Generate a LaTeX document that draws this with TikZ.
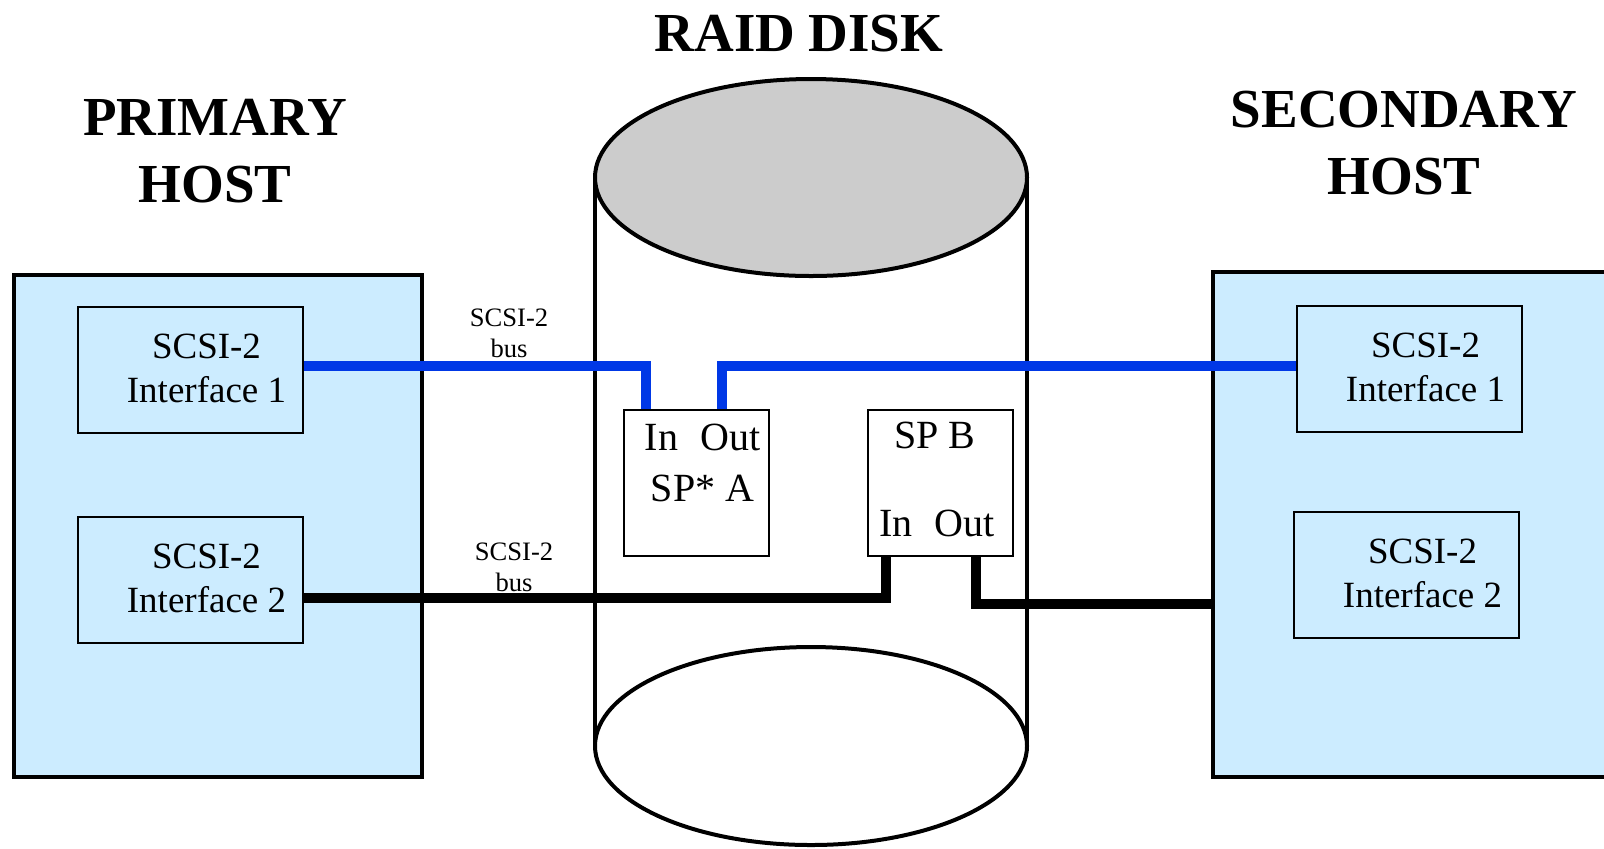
\documentclass[tikz,border=0pt]{standalone}
\usepackage{fontspec}
\setmainfont{Liberation Serif}
\usepackage{xcolor}
\usetikzlibrary{positioning}
\definecolor{hostblue}{HTML}{CCECFF}
\definecolor{diskgray}{HTML}{CCCCCC}
\definecolor{busblue}{RGB}{0,56,230}

\begin{document}
\begin{tikzpicture}[
        x=0.5pt, y=-0.5pt,
        host/.style={draw=black, fill=hostblue, line width=2pt, inner sep=0pt},
        iface/.style={draw=black, fill=hostblue, line width=1pt, minimum width=112.5pt, minimum height=63pt, inner sep=0pt},
        sproc/.style={draw=black, fill=white, line width=1pt, minimum width=72.5pt, minimum height=73pt, inner sep=0pt},
        title/.style={font=\fontsize{27.5}{33.5}\selectfont\bfseries, align=center, inner sep=0pt},
        itext/.style={font=\fontsize{18.5}{22}\selectfont, align=center, inner sep=0pt},
        sptext/.style={font=\fontsize{20}{25.5}\selectfont, align=center, inner sep=0pt},
        buslabel/.style={font=\fontsize{13.3}{15.5}\selectfont, align=center, inner sep=0pt},
        bluebus/.style={busblue, line width=5pt},
        blackbus/.style={black, line width=5pt},
        disk/.style={black, line width=2pt},
    ]
    \useasboundingbox (0,0) rectangle (1604,848);
    \clip (0,0) rectangle (1604,848);

    % titles
    \node[title] (raidtitle) at (799,34) {RAID DISK};
    \node[title] (primtitle) at (215,151) {PRIMARY\\HOST};
    \node[title] (sectitle) at (1404,143) {SECONDARY\\HOST};

    % hosts
    \node[host, minimum width=204pt, minimum height=251pt] (prim) at (218,526) {};
    \node[host, minimum width=213.5pt, minimum height=252.5pt] (sec) at (1426.5,524.5) {};

    \node[iface] (p1) at (190.5,370) {};
    \node[iface] (p2) at (190.5,580) {};
    \node[iface] (s1) at (1409.5,369) {};
    \node[iface] (s2) at (1406.5,575) {};
    \node[itext] (p1t) at ([xshift=8pt, yshift=1pt]p1.center) {SCSI-2\\Interface 1};
    \node[itext] (p2t) at ([xshift=8pt, yshift=1pt]p2.center) {SCSI-2\\Interface 2};
    \node[itext] (s1t) at ([xshift=8pt, yshift=1pt]s1.center) {SCSI-2\\Interface 1};
    \node[itext] (s2t) at ([xshift=8pt, yshift=1pt]s2.center) {SCSI-2\\Interface 2};

    % raid disk
    \draw[disk] (595,178) -- (595,748);
    \draw[disk] (1027,178) -- (1027,748);
    \draw[disk, fill=diskgray] (811,177.5) ellipse [x radius=108pt, y radius=49.25pt];
    \draw[disk] (811,746) ellipse [x radius=108pt, y radius=49.5pt];

    \node[sproc] (spa) at (696.5,482.5) {};
    \node[sproc] (spb) at (940.5,482.5) {};
    \node[sptext] (spat) at ([xshift=3pt, yshift=10pt]spa.center) {In\hspace{0.55em}Out\\SP* A};
    \node[sptext] (spbt) at ([xshift=-2.75pt, yshift=23.75pt]spb.center) {SP B};
    \node[sptext] (spbio) at ([xshift=-1.75pt, yshift=-20.25pt]spb.center) {In\hspace{0.55em}Out};

    % buses
    \draw[bluebus] ([yshift=2pt]p1.east) -| ([xshift=-25.25pt]spa.north);
    \draw[bluebus] ([xshift=12.75pt]spa.north) |- ([yshift=1.5pt]s1.west);
    \draw[blackbus] ([yshift=-9pt]p2.east) -| ([xshift=-27.25pt]spb.south);
    \draw[blackbus] ([xshift=17.75pt]spb.south) |- ([yshift=-39.5pt]sec.west);

    \node[buslabel] (bus1) at (509,333) {SCSI-2\\bus};
    \node[buslabel] (bus2) at (514,567) {SCSI-2\\bus};
\end{tikzpicture}
\end{document}
